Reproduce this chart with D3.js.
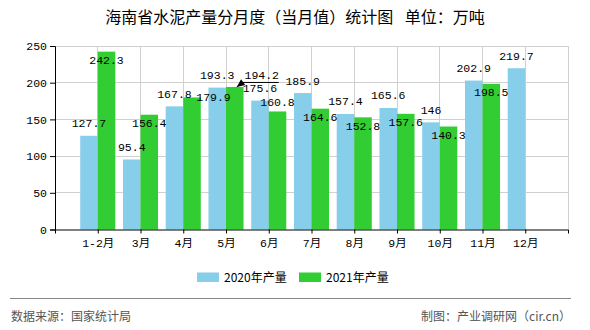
<!DOCTYPE html>
<html><head><meta charset="utf-8">
<script src="https://cdn.jsdelivr.net/npm/d3@7"></script>
<style>body{margin:0;background:#fff}svg{display:block}</style>
</head><body>
<svg id="c" width="590" height="330"></svg>
<script>
const categories = ["1-2月","3月","4月","5月","6月","7月","8月","9月","10月","11月","12月"];
const values2020 = [127.7, 95.4, 167.8, 193.3, 175.6, 185.9, 157.4, 165.6, 146, 202.9, 219.7];
const values2021 = [242.3, 156.4, 179.9, 194.2, 160.8, 164.6, 152.8, 157.6, 140.3, 198.5, null];
const seriesNames = ["2020年产量","2021年产量"];
const yTicks = [0, 50, 100, 150, 200, 250];
const titleText = "海南省水泥产量分月度（当月值）统计图\u2002 单位：万吨";
const sourceText = "数据来源：国家统计局";
const creditText = "制图：产业调研网（cir.cn）";

// layout (not data)
const W = 590, H = 330;
const M = {left: 55, right: 22, top: 46, bottom: 100.5};
const colors = ["#87CEEB", "#32CD32"];
const numFont = "'Liberation Mono','Noto Sans CJK SC',monospace";
const cjkFont = "'Noto Sans CJK SC','Liberation Sans',sans-serif";
// label nudges for the 2021 series where the original moved labels
const greenNudge = {"4月": {dx: 21.5, dy: -8.5}, "5月": {dx: 27, dy: -20.5, leader: true}, "6月": {dx: 0, dy: -18}};

const svg = d3.select("#c");
const x = d3.scalePoint().domain(categories).range([M.left, W - M.right]).padding(1);
const y = d3.scaleLinear().domain([0, 250]).range([H - M.bottom, M.top]);
const step = x.step();
const bw = step * 0.41;

// gridlines
const grid = svg.append("g");
grid.selectAll("line.h").data(yTicks.filter(d => d > 0)).join("line")
  .attr("x1", M.left).attr("x2", W - M.right)
  .attr("y1", d => y(d)).attr("y2", d => y(d))
  .attr("stroke", "#d0d0d0").attr("stroke-width", 1).attr("shape-rendering", "crispEdges");
grid.selectAll("line.v").data(categories).join("line")
  .attr("x1", d => x(d)).attr("x2", d => x(d))
  .attr("y1", y(250)).attr("y2", y(0))
  .attr("stroke", "#d0d0d0").attr("stroke-width", 1).attr("shape-rendering", "crispEdges");
grid.append("line").attr("x1", W - M.right).attr("x2", W - M.right)
  .attr("y1", y(250)).attr("y2", y(0))
  .attr("stroke", "#d0d0d0").attr("shape-rendering", "crispEdges");

// bars
const series = [values2020, values2021];
series.forEach((vals, si) => {
  svg.append("g").selectAll("rect")
    .data(categories.map((c, i) => ({c, v: vals[i]})).filter(d => d.v != null))
    .join("rect")
    .attr("x", d => si === 0 ? x(d.c) - bw : x(d.c))
    .attr("width", bw)
    .attr("y", d => y(d.v))
    .attr("height", d => y(0) - y(d.v))
    .attr("fill", colors[si]);
});

// axes
const yAxis = d3.axisLeft(y).tickValues(yTicks).tickSize(5).tickPadding(3);
const gy = svg.append("g").attr("transform", `translate(${M.left},0)`).call(yAxis);
gy.select(".domain").attr("stroke", "#000");
gy.selectAll("text").attr("font-family", numFont).attr("font-size", 11.5).attr("fill", "#000");

const xAxis = d3.axisBottom(x).tickSize(4).tickPadding(5).tickSizeOuter(4);
const gx = svg.append("g").attr("transform", `translate(0,${y(0)})`).call(xAxis);
gx.select(".domain").attr("stroke", "#000");
gx.selectAll("text").attr("font-family", numFont).attr("font-size", 11.5).attr("fill", "#000");

// value labels
const lab = svg.append("g").attr("font-family", numFont).attr("font-size", 11.5).attr("fill", "#000").attr("text-anchor", "middle");
categories.forEach((c, i) => {
  const v0 = values2020[i];
  if (v0 != null) {
    lab.append("text").attr("x", x(c) - bw / 2).attr("y", y(v0) - 12.5).attr("dy", "0.35em").text(v0);
  }
  const v1 = values2021[i];
  if (v1 != null) {
    const n = greenNudge[c] || {dx: 0, dy: 0};
    const lx = x(c) + bw / 2 + n.dx, ly = y(v1) + 8.5 + n.dy;
    lab.append("text").attr("x", lx).attr("y", ly).attr("dy", "0.35em").text(v1);
    if (n.leader) {
      const tipX = x(c) + bw / 2 + 2, tipY = y(v1);
      const ux = lx - 19, uy = ly + 7.5;
      svg.append("path")
        .attr("d", `M${tipX},${tipY}L${ux},${uy}L${lx + 17},${uy}`)
        .attr("fill", "none").attr("stroke", "#000").attr("stroke-width", 1);
      const ang = Math.atan2(uy - tipY, ux - tipX);
      const L = 8, Wd = 3.5;
      const bx = tipX + L * Math.cos(ang), by = tipY + L * Math.sin(ang);
      const px = -Math.sin(ang) * Wd, py = Math.cos(ang) * Wd;
      svg.append("path")
        .attr("d", `M${tipX},${tipY}L${bx + px},${by + py}L${bx - px},${by - py}Z`)
        .attr("fill", "#000");
    }
  }
});

// title
svg.append("text").attr("x", W / 2).attr("y", 22.5).attr("text-anchor", "middle")
  .attr("font-family", cjkFont).attr("font-size", 16).attr("fill", "#000")
  .style("white-space", "pre").text(titleText);

// legend
const leg = svg.append("g");
const legX = [197, 299];
seriesNames.forEach((s, i) => {
  leg.append("rect").attr("x", legX[i]).attr("y", 272.5).attr("width", 22).attr("height", 9.5).attr("fill", colors[i]);
  leg.append("text").attr("x", legX[i] + 27).attr("y", 277.3).attr("dy", "0.35em")
    .attr("font-family", cjkFont).attr("font-size", 12).attr("fill", "#000").text(s);
});

// footer
svg.append("line").attr("x1", 10).attr("x2", 571).attr("y1", 298.5).attr("y2", 298.5)
  .attr("stroke", "#888").attr("stroke-width", 1);
svg.append("text").attr("x", 11).attr("y", 316.7).attr("dy", "0.35em")
  .attr("font-family", cjkFont).attr("font-size", 12).attr("fill", "#555").text(sourceText);
svg.append("text").attr("x", 571).attr("y", 316.7).attr("dy", "0.35em").attr("text-anchor", "end")
  .attr("font-family", cjkFont).attr("font-size", 12).attr("fill", "#555").text(creditText);
</script>
</body></html>
